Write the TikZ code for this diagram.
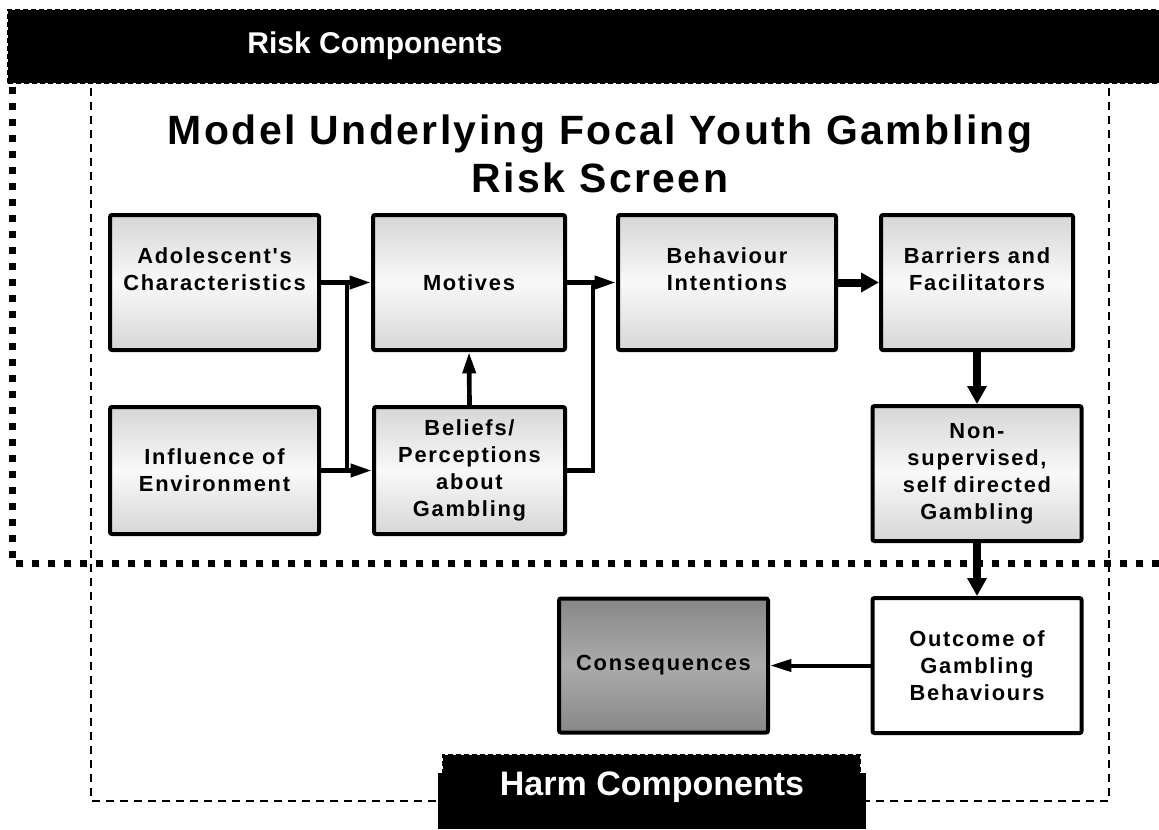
\documentclass[tikz,border=0pt]{standalone}
\usepackage{fontspec}
\setmainfont{Liberation Sans}
\newfontfamily\boxfont{Liberation Sans}[LetterSpace=8]
\newfontfamily\titlefont{Liberation Sans}[LetterSpace=6]
\usetikzlibrary{arrows.meta}
\definecolor{boxedge}{gray}{0.84}
\definecolor{boxmid}{gray}{0.975}
\definecolor{consedge}{gray}{0.53}
\definecolor{consmid}{gray}{0.67}
\begin{document}
\begin{tikzpicture}[x=0.75pt,y=-0.75pt,
  box/.style={draw=black, line width=3pt, rounded corners=1.5pt,
    top color=boxedge, bottom color=boxedge, middle color=boxmid,
    align=center, inner sep=0pt, text=black,
    font=\boxfont\bfseries\fontsize{16.4}{20.2}\selectfont},
  plainbox/.style={box, top color=white, bottom color=white, middle color=white},
  consbox/.style={box, top color=consedge, bottom color=consedge, middle color=consmid},
  conn/.style={line width=3.5pt, draw=black},
  tipthin/.style={-{Triangle[length=16pt,width=9.5pt]}},
  thickconn/.style={line width=6pt, draw=black, -{Triangle[length=13.5pt,width=14pt]}},
  riskline/.style={line width=5.25pt, dash pattern=on 5.25pt off 6.75pt},
  harmline/.style={line width=1pt, dash pattern=on 6pt off 4.5pt},
  barlabel/.style={text=white, font=\bfseries\fontsize{22.5}{26}\selectfont},
]
\useasboundingbox (0,0) rectangle (1159,829);
\fill[white] (0,0) rectangle (1159,829);

% region outlines
\draw[harmline] (91,60) -- (91,801) -- (1109,801) -- (1109,60);
\draw[riskline] (1175,563) -- (12,563) -- (12,60);

% top bar
\fill[black] (8,10) rectangle (1170,83);
\draw[black, line width=1pt, dash pattern=on 4pt off 2pt] (8,83) -- (8,10) -- (1170,10);
\draw[black, line width=1pt, dash pattern=on 4pt off 2pt] (8,83) -- (1170,83);
\node[barlabel] (riskbar) at (375,46) {Risk Components};

% bottom bar
\fill[black] (443,755) rectangle (860,829);
\draw[black, line width=1pt, dash pattern=on 4pt off 2pt] (443,790) -- (443,755) -- (860,755) -- (860,790);
\fill[black] (438,773) rectangle (866,829);
\node[barlabel, font=\bfseries\fontsize{25.5}{30}\selectfont] (harmbar) at (652,787) {Harm Components};

% title
\node[align=center, font=\titlefont\bfseries\fontsize{30.7}{36}\selectfont] (title) at (600,154)
  {Model Underlying Focal Youth Gambling\\Risk Screen};

% boxes
\node[box, minimum width=156.75pt, minimum height=101.25pt] (ado) at (214.5,282.5) {Adolescent's\\Characteristics\\\mbox{}};
\node[box, minimum width=156.75pt, minimum height=95.25pt] (inf) at (214.5,470.5) {Influence of\\Environment};
\node[box, minimum width=144pt, minimum height=101.25pt] (mot) at (469,282.5) {Motives};
\node[box, minimum width=143.25pt, minimum height=95.25pt] (bel) at (469.5,470.5) {Beliefs/\\Perceptions\\about\\Gambling};
\node[box, minimum width=163.5pt, minimum height=101.25pt] (beh) at (727,282.5) {Behaviour\\Intentions\\\mbox{}};
\node[box, minimum width=144pt, minimum height=101.25pt] (bar) at (977,282.5) {Barriers and\\Facilitators\\\mbox{}};
\node[box, minimum width=156.75pt, minimum height=101.25pt] (nons) at (977,473.5) {Non-\\supervised,\\self directed\\Gambling};
\node[plainbox, minimum width=156.75pt, minimum height=101.25pt] (out) at (977,665.5) {Outcome of\\Gambling\\Behaviours};
\node[consbox, minimum width=156.75pt, minimum height=100.5pt] (con) at (663.5,665.5) {Consequences};

% connectors
\coordinate (bus1) at (347,376);
\coordinate (bus2) at (593,282.5);
\draw[conn] (bus1 |- ado.east) -- (bus1 |- inf.east);
\draw[conn, tipthin] (ado.east) -- (mot.west);
\draw[conn, tipthin] (inf.east) -- (bel.west);
\draw[conn, tipthin] (bel.north) -- (mot.south);
\draw[conn] (bel.east) -| (bus2);
\draw[conn, tipthin] (mot.east) -- (beh.west);
\draw[thickconn] (beh.east) -- (bar.west);
\draw[thickconn] (bar.south) -- (nons.north);
\draw[thickconn] (nons.south) -- (out.north);
\draw[line width=3pt, -{Triangle[length=16pt,width=9pt]}] (out.west) -- (con.east);
\end{tikzpicture}
\end{document}
